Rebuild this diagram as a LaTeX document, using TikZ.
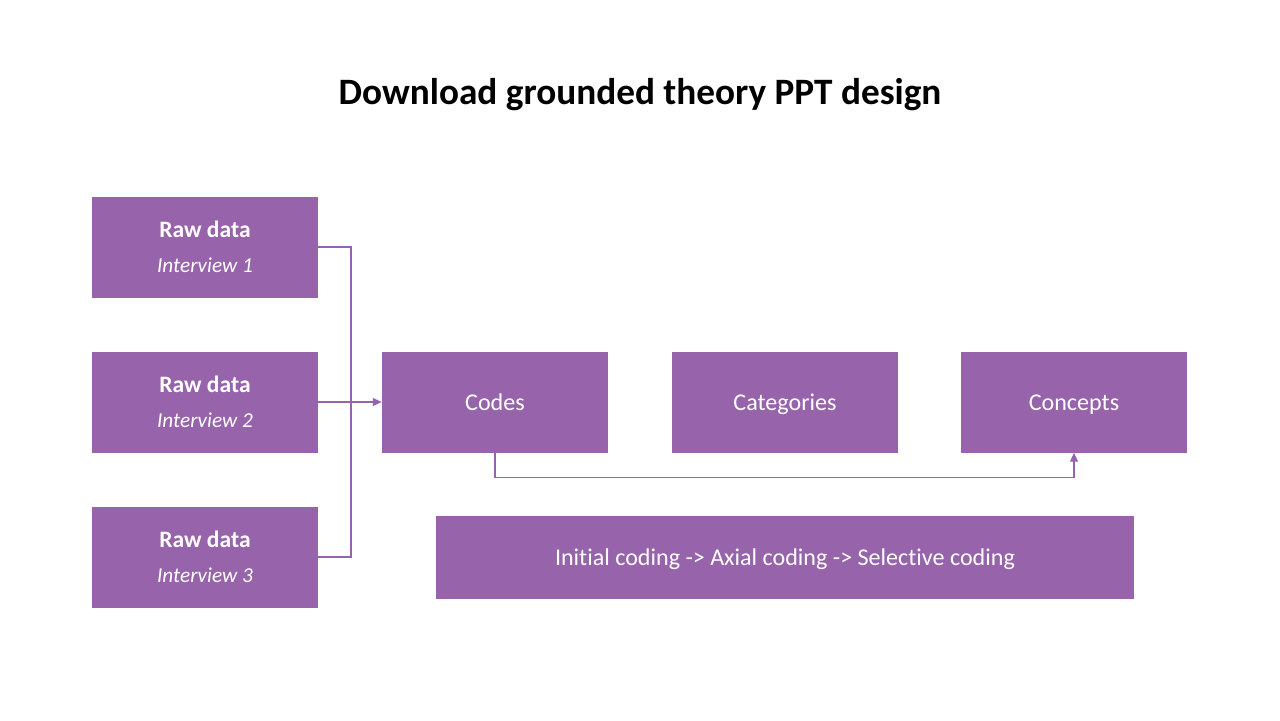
\documentclass[tikz,border=0pt]{standalone}
\usepackage{fontspec}
\setmainfont{Carlito}[Ligatures=NoCommon]
\usetikzlibrary{arrows.meta}
\definecolor{gtpurple}{RGB}{151,99,171}

\begin{document}
\begin{tikzpicture}
  [x=0.02cm,y=-0.02cm,
   every node/.style={rectangle,fill=gtpurple,text=white,inner sep=0pt,align=center},
   smallbox/.style={minimum width=226*0.02cm,minimum height=101*0.02cm},
   label/.style={font=\fontsize{13.7}{16}\selectfont,text height=13.6pt,text depth=3.6pt},
   link/.style={draw=gtpurple,line width=0.6pt},
   tip/.style={-{Triangle[length=5pt,width=4.5pt]}}]
  \useasboundingbox (0,0) rectangle (1280,720);

  \node[fill=none,text=black,font=\fontsize{21.2}{25}\selectfont\bfseries] (title) at (640,95) {Download grounded theory PPT design};

  \node[smallbox] (raw1) at (205,247) {\fontsize{13.4}{16}\selectfont\bfseries Raw data\\[7.6pt]\fontsize{12.1}{14}\selectfont\itshape Interview 1};
  \node[smallbox] (raw2) at (205,402) {\fontsize{13.4}{16}\selectfont\bfseries Raw data\\[7.6pt]\fontsize{12.1}{14}\selectfont\itshape Interview 2};
  \node[smallbox] (raw3) at (205,557) {\fontsize{13.4}{16}\selectfont\bfseries Raw data\\[7.6pt]\fontsize{12.1}{14}\selectfont\itshape Interview 3};

  \node[smallbox,label] (codes) at (495,402) {Codes};
  \node[smallbox,label] (categories) at (785,402) {Categories};
  \node[smallbox,label] (concepts) at (1074,402) {Concepts};

  \node[minimum width=698*0.02cm,minimum height=83*0.02cm,label] (coding) at (785,557) {Initial coding -> Axial coding -> Selective coding};

  \coordinate (joint) at (351,402);
  \draw[link] (raw1.east) -| (joint) |- (raw3.east);
  \draw[link,tip] (raw2.east) -- (codes.west);
  \draw[link,tip] (codes.south) -- ++(0,25) -| (concepts.south);

\end{tikzpicture}
\end{document}
